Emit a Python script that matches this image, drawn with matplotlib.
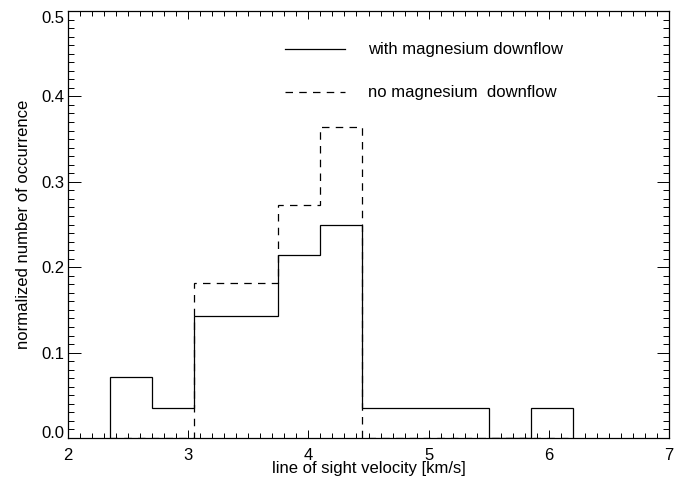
import matplotlib.pyplot as plt
from matplotlib.ticker import MultipleLocator
import matplotlib.transforms as mtransforms

# bin edges of the histogram (km/s), width 0.35
edges = [2.35, 2.70, 3.05, 3.40, 3.75, 4.10, 4.45, 4.80, 5.15, 5.50, 5.85, 6.20]
# normalized occurrence, with Mg downflow (28 events)
with_mg = [2/28, 1/28, 4/28, 4/28, 6/28, 7/28, 1/28, 1/28, 1/28, 0.0, 1/28]
# normalized occurrence, no Mg downflow (11 events)
no_mg = [0.0, 0.0, 2/11, 2/11, 3/11, 4/11, 0.0, 0.0, 0.0, 0.0, 0.0]

yticks = [0.0, 0.1, 0.2, 0.3, 0.4, 0.5]

label_with = 'with magnesium downflow'
label_no = 'no magnesium  downflow'

plt.rcParams['font.family'] = ['Liberation Sans', 'DejaVu Sans']
plt.rcParams['font.size'] = 12

fig = plt.figure(figsize=(6.99, 4.84), dpi=100)
ax = fig.add_axes([68 / 699, 46 / 484, 601 / 699, 427 / 484])

ax.stairs(with_mg, edges, baseline=0, color='black', lw=0.9)
ax.stairs(no_mg, edges, baseline=0, color='black', lw=0.9,
          linestyle=(0, (6, 5)))

ax.set_xlim(2, 7)
ax.set_ylim(0, 0.5)
ax.xaxis.set_major_locator(MultipleLocator(1))
ax.xaxis.set_minor_locator(MultipleLocator(0.1))
ax.set_yticks(yticks)
ax.yaxis.set_minor_locator(MultipleLocator(0.01))
ax.tick_params(which='both', direction='in', top=True, right=True, width=0.7)
ax.tick_params(axis='x', which='major', length=6, pad=7)
ax.tick_params(axis='x', which='minor', length=3.5)
ax.tick_params(axis='y', which='major', length=9, labelleft=False)
ax.tick_params(axis='y', which='minor', length=4.5)
for s in ax.spines.values():
    s.set_linewidth(0.9)

# y tick labels by hand: IDL keeps the end labels inside the axis range
trans = mtransforms.blended_transform_factory(ax.transAxes, ax.transData)
for i, v in enumerate(yticks):
    va = 'center_baseline'
    if i == 0:
        va = 'baseline'
    elif i == len(yticks) - 1:
        va = 'top'
    ax.text(-0.006, v, '%.1f' % v, transform=trans, ha='right', va=va)

ax.set_xlabel('line of sight velocity [km/s]', labelpad=-1)
ax.set_ylabel('normalized number of occurrence', labelpad=23)

# legend drawn by hand, IDL style
ax.plot([0.361, 0.461], [0.911, 0.911], transform=ax.transAxes, color='black', lw=0.9)
ax.plot([0.361, 0.461], [0.810, 0.810], transform=ax.transAxes, color='black', lw=0.9,
        linestyle=(0, (6, 5)))
ax.text(0.499, 0.911, label_with, transform=ax.transAxes, va='center')
ax.text(0.499, 0.810, label_no, transform=ax.transAxes, va='center')

fig.savefig('out.png', dpi=100)
